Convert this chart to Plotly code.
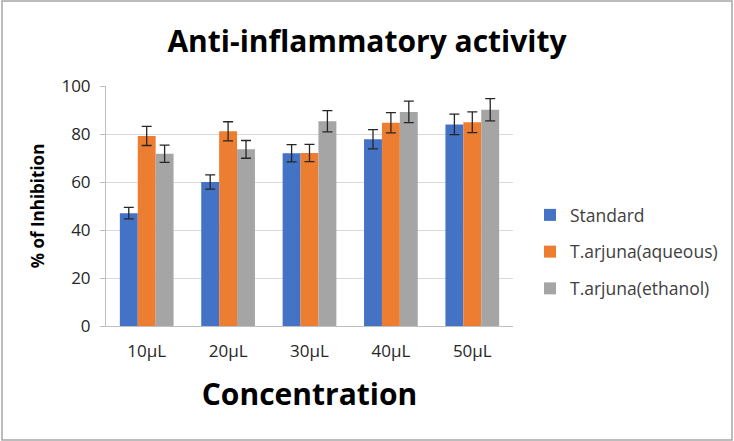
import plotly.graph_objects as go

categories = ["10µL", "20µL", "30µL", "40µL", "50µL"]
standard = [47, 60, 72, 77.8, 84]
standard_err = [2.4, 3, 3.6, 4, 4.3]
aqueous = [79.2, 81.1, 72.1, 84.7, 84.9]
aqueous_err = [4, 4, 3.6, 4.2, 4.3]
ethanol = [71.8, 73.6, 85.3, 89.2, 90.1]
ethanol_err = [3.6, 3.7, 4.4, 4.5, 4.6]

series = [
    ("Standard", standard, standard_err, "#4472C4"),
    ("T.arjuna(aqueous)", aqueous, aqueous_err, "#ED7D31"),
    ("T.arjuna(ethanol)", ethanol, ethanol_err, "#A5A5A5"),
]

FONT = "Open Sans"
fig = go.Figure()
for name, vals, errs, col in series:
    fig.add_trace(go.Bar(
        x=categories, y=vals, name=name, legendgroup=name,
        marker=dict(color=col, line=dict(width=0)),
        error_y=dict(type="data", array=errs, visible=True, color="#262626", thickness=1.3, width=5),
    ))

L, R, T, B = 106, 221, 86, 115
PW, PH = 734 - L - R, 441 - T - B

fig.update_layout(
    width=734, height=441,
    margin=dict(l=L, r=R, t=T, b=B, autoexpand=False),
    paper_bgcolor="white", plot_bgcolor="white",
    barmode="group", bargap=0.34, bargroupgap=0,
    font=dict(family=FONT, color="#404040", size=16),
    title=dict(text="<b>Anti-inflammatory activity</b>", x=0.5, xanchor="center", y=0.905, yanchor="middle",
               font=dict(family=FONT, size=30, color="black")),
    legend=dict(x=(530 - L) / PW, xanchor="left", y=(441 - B - 252) / PH, yanchor="middle",
                font=dict(size=17.5, color="#404040"), traceorder="grouped", itemwidth=30,
                itemsizing="constant", tracegroupgap=11, bgcolor="rgba(0,0,0,0)"),
    showlegend=True,
)
fig.update_xaxes(showgrid=False, showline=True, linecolor="#BFBFBF", linewidth=1, ticks="",
                 tickfont=dict(size=17, color="#262626"), ticklabelstandoff=10,
                 title=dict(text="<b>Concentration</b>", font=dict(size=30, color="black"), standoff=22))
fig.update_yaxes(range=[0, 100], dtick=20, showgrid=True, gridcolor="#D9D9D9", gridwidth=1,
                 showline=True, linecolor="#BFBFBF", linewidth=1, ticks="outside", ticklen=5, tickcolor="#BFBFBF",
                 tickfont=dict(size=17, color="#262626"), zeroline=False, ticklabelstandoff=6,
                 title=dict(text="<b>% of Inhibition</b>", font=dict(size=17, color="black"), standoff=12))
fig.add_shape(type="rect", xref="paper", yref="paper",
              x0=(2 - L) / PW, x1=(732 - L) / PW, y0=-(B - 1) / PH, y1=1 + (T - 1) / PH,
              line=dict(color="#A6A6A6", width=1.5))
fig.write_html("out.html", config={"displayModeBar": False},
               post_script="document.body.style.margin='0';document.body.style.padding='0';")
